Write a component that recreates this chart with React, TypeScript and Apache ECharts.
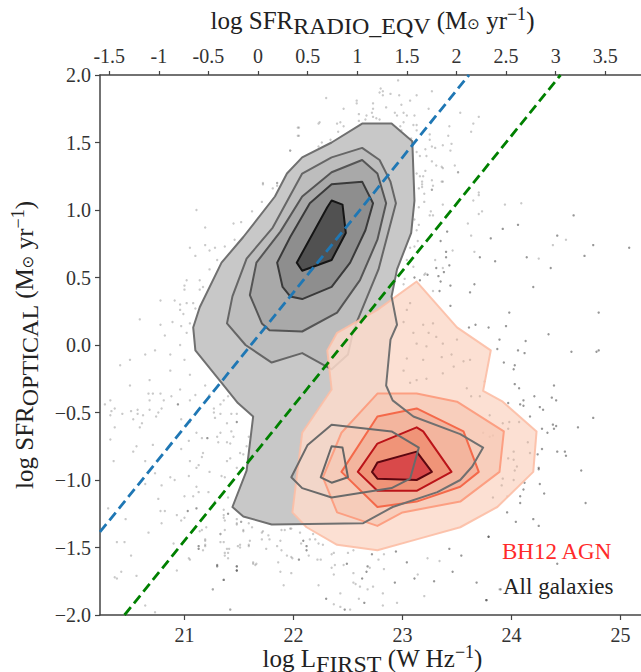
import React, { useEffect, useRef } from "react";
import * as echarts from "echarts";

const xBottomTicks = [21, 22, 23, 24, 25];
const xTopTicks = [-1.5, -1, -0.5, 0, 0.5, 1, 1.5, 2, 2.5, 3, 3.5];

const blueLine = [[20.225, -1.385], [23.61, 2]];
const greenLine = [[20.45, -2], [24.45, 2]];

const grayL1 = [[22.63,1.64],[22.90,1.64],[23.09,1.51],[23.11,1.07],[23.08,0.83],[22.95,0.56],[22.90,0.36],[22.95,0.15],[22.89,0.04],[22.85,-0.30],[22.91,-0.41],[23.10,-0.53],[23.53,-0.66],[23.74,-0.76],[23.64,-0.90],[23.53,-1.00],[23.32,-1.09],[22.91,-1.20],[22.64,-1.32],[21.80,-1.33],[21.54,-1.27],[21.44,-1.20],[21.57,-0.93],[21.63,-0.53],[21.49,-0.43],[21.33,-0.27],[21.10,-0.04],[21.08,0.13],[21.14,0.28],[21.34,0.61],[21.54,0.80],[21.83,1.10],[21.94,1.27],[22.08,1.39],[22.35,1.50]];
const grayL2 = [[22.63,1.46],[22.79,1.37],[22.89,1.21],[22.94,1.05],[22.78,0.56],[22.55,0.11],[22.50,-0.07],[22.35,-0.18],[22.08,-0.06],[21.80,-0.13],[21.56,0.00],[21.39,0.16],[21.44,0.36],[21.57,0.64],[21.81,0.87],[22.08,1.27],[22.35,1.39]];
const grayL3 = [[22.63,1.37],[22.77,1.27],[22.85,1.05],[22.77,0.78],[22.61,0.48],[22.40,0.24],[22.08,0.10],[21.78,0.11],[21.71,0.16],[21.60,0.37],[21.66,0.61],[21.88,0.84],[22.08,1.10],[22.35,1.28]];
const grayL4 = [[22.35,1.19],[22.63,1.21],[22.73,1.05],[22.66,0.85],[22.52,0.61],[22.35,0.43],[22.08,0.34],[21.97,0.36],[21.90,0.43],[21.85,0.61],[21.97,0.80],[22.15,1.05]];
const grayL5 = [[22.35,1.07],[22.45,1.04],[22.48,0.83],[22.35,0.63],[22.08,0.55],[22.03,0.61],[22.31,1.02]];
const grayIslandL2 = [[22.35,-0.59],[22.90,-0.64],[23.15,-0.76],[23.07,-0.99],[22.90,-1.06],[22.35,-1.13],[22.08,-1.06],[21.98,-0.98],[22.13,-0.74]];
const grayIslandL3 = [[22.35,-0.75],[22.45,-0.76],[22.50,-0.98],[22.35,-1.02],[22.25,-0.98]];

const agnL1 = [[23.13,0.47],[23.50,0.13],[23.81,-0.04],[23.74,-0.34],[23.92,-0.42],[24.23,-0.64],[24.20,-0.94],[23.87,-1.20],[23.53,-1.35],[23.13,-1.44],[22.77,-1.52],[22.40,-1.48],[22.12,-1.35],[21.99,-1.24],[22.08,-0.65],[22.35,-0.33],[22.31,-0.04],[22.40,0.09],[22.77,0.26]];
const agnL2 = [[22.77,-0.36],[23.13,-0.36],[23.50,-0.42],[23.93,-0.64],[23.89,-0.94],[23.53,-1.16],[23.00,-1.24],[22.77,-1.34],[22.40,-1.24],[22.27,-0.98],[22.44,-0.65]];
const agnL3 = [[22.44,-0.94],[22.77,-0.53],[23.13,-0.47],[23.56,-0.64],[23.70,-0.94],[23.53,-1.05],[23.13,-1.16],[22.77,-1.20]];
const agnL4 = [[22.59,-0.94],[22.77,-0.73],[23.13,-0.61],[23.19,-0.64],[23.45,-0.94],[23.13,-1.08],[22.77,-1.08]];
const agnL5 = [[22.72,-0.94],[22.77,-0.87],[23.13,-0.79],[23.27,-0.94],[23.13,-1.00],[22.77,-0.99]];

const faintDots = [
[20.27,-0.44],[20.33,-0.49],[20.32,-0.52],[20.36,-0.47],[20.43,-0.51],[20.51,-0.49],[20.57,-0.48],[20.57,-0.51],[20.62,-0.52],[20.68,-0.48],[20.76,-0.50],[20.74,-0.53],[20.53,-0.55],[20.61,-0.58],[20.59,-0.61],[20.36,-0.61],[20.32,-0.70],[20.56,-0.75],[20.53,-0.79],[20.71,-0.74],[20.35,-0.86],[20.64,-0.86],[20.73,-0.95],[20.81,-0.41],[20.79,-0.47],[20.88,-0.38],[20.67,-0.36],[20.71,-0.36],[20.78,-0.36],[21.05,-0.41],[20.97,-0.55],[21.05,-0.57],[21.11,-0.65],[21.16,-0.69],[21.04,-0.71],[20.97,-0.77],[21.30,-0.68],[21.33,-0.65],[21.43,-0.64],[21.45,-0.68],[21.42,-0.73],[21.39,-0.72],[21.17,-0.80],[21.16,-0.83],[21.05,-0.86],[21.13,-0.89],[21.11,-0.91],[21.23,-0.94],[21.34,-0.97],[21.37,-0.98],[21.48,-0.91],[21.42,-0.84],[21.39,-0.86],[21.51,-0.80],[21.54,-0.81],[21.04,-0.97],[20.91,-1.00],[20.87,-0.98],[20.79,-1.04],[20.64,-1.03],[20.76,-1.14],[21.00,-1.12],[21.11,-1.05],[21.13,-1.09],[21.08,-1.12],[21.22,-1.09],[21.33,-1.12],[21.28,-1.16],[21.40,-1.13],[21.36,-1.22],[21.36,-1.28],[20.78,-1.23],[20.82,-1.23],[20.93,-1.26],[21.00,-1.28],[20.97,-1.30],[20.79,-1.32],[20.67,-1.39],[20.38,-1.46],[20.45,-1.46],[20.51,-1.56],[20.42,-1.68],[20.38,-1.73],[20.36,-1.72],[20.56,-1.71],[20.64,-1.93],[20.73,-1.98],[20.46,-1.29],[20.30,-1.21],[20.90,-1.47],[21.04,-1.58],[21.05,-1.59],[21.19,-1.44],[21.19,-1.48],[20.93,-1.67],[21.26,-1.81],[21.42,-1.96],[21.37,-1.54],[21.40,-1.58],[21.51,-1.48],[21.59,-1.48],[21.63,-1.61],[21.66,-1.62],[21.33,-1.40],[21.37,-1.37],[21.48,-1.32],[21.52,-1.31],[21.59,-1.32],[21.62,-1.35],[21.54,-1.37],[21.14,-1.38],[21.20,-1.35],[21.27,-0.50],[21.27,-0.47],[21.33,-0.51],[21.36,-0.41],[21.40,-0.38],[21.33,-0.44],[21.43,-0.51],[21.48,-0.51],[21.39,-0.58],[21.28,-0.54],[21.59,-0.68],[21.31,-0.72],[21.57,-0.75],
[21.16,-1.37],[21.19,-1.45],[21.19,-1.49],[21.17,-1.52],[21.33,-1.40],[21.33,-1.46],[21.36,-1.46],[21.37,-1.30],[21.36,-1.26],[21.48,-1.29],[21.52,-1.31],[21.48,-1.33],[21.54,-1.38],[21.60,-1.45],[21.59,-1.49],[21.49,-1.49],[21.51,-1.50],[21.71,-1.39],[21.72,-1.38],[21.77,-1.41],[21.71,-1.44],[21.78,-1.44],[21.88,-1.45],[21.85,-1.49],[21.75,-1.51],[21.89,-1.52],[21.94,-1.56],[21.98,-1.57],[21.99,-1.58],[22.14,-1.56],[22.07,-1.47],[21.89,-1.37],[21.92,-1.37],[21.97,-1.36],[21.98,-1.36],[22.06,-1.39],[22.15,-1.44],[22.20,-1.44],[22.18,-1.40],[22.23,-1.47],[22.27,-1.48],[22.35,-1.55],[22.37,-1.54],[22.50,-1.54],[22.55,-1.52],[22.83,-1.55],[22.78,-1.59],[23.23,-1.58],[23.34,-1.60],[22.46,-1.63],[22.38,-1.63],[22.35,-1.65],[22.37,-1.70],[22.22,-1.59],[22.25,-1.59],[21.86,-1.61],[21.63,-1.62],[21.65,-1.63],[21.48,-1.64],[21.37,-1.56],[21.40,-1.54],[21.39,-1.51],[21.41,-1.51],[21.88,-1.68],[21.98,-1.69],[21.36,-1.74],[21.26,-1.81],[21.91,-1.78],[22.23,-1.78],[22.55,-1.69],[22.70,-1.65],[22.83,-1.66],[22.55,-1.76],[22.57,-1.77],[22.61,-1.79],[22.68,-1.81],[22.73,-1.79],[23.14,-1.70],[23.20,-1.86],[22.82,-1.84],[22.43,-1.84],[22.60,-1.88],[22.37,-1.92],[22.43,-1.94],[22.52,-1.96],[22.82,-1.93],[22.95,-1.91],[21.42,-1.96],[23.89,-1.81],
[22.96,1.96],[22.80,1.90],[22.79,1.87],[22.82,1.88],[22.82,1.85],[22.89,1.86],[22.97,1.85],[23.13,1.85],[23.27,1.88],[22.30,1.83],[22.58,1.81],[22.58,1.79],[22.46,1.75],[22.73,1.79],[22.73,1.75],[22.85,1.76],[22.99,1.78],[23.07,1.81],[23.24,1.75],[22.72,1.72],[22.67,1.70],[22.60,1.71],[22.60,1.66],[22.66,1.67],[22.73,1.69],[22.76,1.68],[22.79,1.67],[22.93,1.72],[22.95,1.70],[23.01,1.72],[23.04,1.70],[23.11,1.70],[23.53,1.72],[23.70,1.69],[23.65,1.64],[23.63,1.58],[22.24,1.65],[22.23,1.64],[22.40,1.64],[22.43,1.65],[22.46,1.62],[22.04,1.61],[22.04,1.55],[22.41,1.58],[22.34,1.52],[22.26,1.50],[22.23,1.47],[21.97,1.44],[23.01,1.65],[23.10,1.63],[23.13,1.63],[22.98,1.62],[22.99,1.59],[23.13,1.59],[23.08,1.53],[23.25,1.56],[23.43,1.62],[23.42,1.55],[23.37,1.48],[23.45,1.49],[23.44,1.44],[23.25,1.52],[23.21,1.45],[23.27,1.47],[23.30,1.46],[23.16,1.40],[23.22,1.40],[23.13,1.43],[23.27,1.36],[23.31,1.33],[23.36,1.32],[23.37,1.31],[23.48,1.33],[23.51,1.28],[23.13,1.27],[23.19,1.25],[23.18,1.21],[23.27,1.22],[23.36,1.21],[23.18,1.17],[23.27,1.15],[21.72,1.19],[21.85,1.20],[21.85,1.18],[21.81,1.16],
[23.16,1.25],[23.18,1.19],[23.21,1.29],[23.37,1.21],[23.51,1.28],[23.28,1.18],[23.27,1.15],[23.15,1.16],[23.20,1.12],[23.15,1.02],[23.20,1.06],[23.37,1.04],[23.26,0.99],[23.28,0.96],[23.25,0.96],[23.11,0.93],[23.15,0.89],[23.13,0.85],[23.14,0.77],[23.11,0.73],[23.07,0.72],[23.04,0.63],[23.65,1.07],[23.70,1.13],[23.70,1.11],[23.73,0.99],[23.70,0.97],[23.94,1.04],[24.09,1.05],[23.60,0.90],[23.63,0.81],[24.50,0.78],[24.38,0.74],[23.46,0.70],[23.66,0.69],[24.25,0.64],[23.30,0.63],[23.37,0.57],[23.10,0.58],[23.02,0.49],[23.21,0.53],[23.20,0.52],[23.01,0.45],[23.28,0.40],
[21.11,1.00],[21.19,0.87],[21.05,0.72],[21.19,0.74],[21.10,0.66],[21.28,0.72],[21.37,0.73],[21.45,0.90],[21.52,0.91],[21.62,0.99],[21.71,1.06],[21.72,1.20],[21.85,1.20],[21.97,1.44],[22.05,1.61],[22.05,1.55],[21.02,0.48],[21.00,0.44],[21.17,0.43],[21.14,0.41],[21.08,0.31],[21.02,0.31],[21.10,0.27],[20.96,0.30],[20.99,0.23],[21.05,0.16],[20.97,0.14],[21.02,0.09],[21.23,0.56],[21.30,0.63],[21.46,0.78],
[20.59,0.19],[20.73,-0.04],[20.41,-0.15],[20.82,0.07],[20.87,-0.19],[20.32,-0.41],[20.50,-0.30],[20.68,-0.26],[20.91,0.33],[20.78,0.33],[20.96,0.26],[20.64,-0.07],[20.87,-0.07],[20.96,0.00],[21.05,-0.22],[21.19,-0.30],[20.96,-0.33],[20.68,-0.41],[20.50,-0.11],[21.00,-0.11],[21.10,-0.37],[21.23,-0.37],[20.78,0.15],[20.89,0.17],[21.00,0.41],[21.14,0.48],[21.23,0.70],
];

const darkDots = [
[20.94,-0.44],[21.21,-0.69],[21.48,-0.57],[21.40,-1.25],[21.03,-1.23],[21.11,-1.21],[21.13,-1.49],[21.13,-1.51],[21.30,-1.63],[21.48,-1.64],[21.48,-1.67],[21.36,-1.74],
[22.05,-1.59],[22.09,-1.45],[22.12,-1.49],[22.12,-1.52],[22.72,-1.55],[22.94,-1.53],[23.04,-1.61],[23.43,-1.51],[23.54,-1.56],[23.79,-1.42],[22.49,-1.62],[21.30,-1.64],[21.48,-1.67],[22.68,-1.64],[22.67,-1.68],[22.63,-1.73],[22.93,-1.76],[23.11,-1.73],[23.29,-1.75],[23.46,-1.68],[23.68,-1.76],[23.77,-1.89],[22.30,-1.88],[22.65,-1.91],[22.47,-1.96],
[24.57,0.96],[23.92,0.86],[24.06,0.89],[23.41,0.84],[23.35,0.77],[23.81,0.79],[24.42,0.81],[24.75,0.74],[25.08,0.72],[23.40,0.69],[23.40,0.65],[23.71,0.65],[23.85,0.62],[24.14,0.65],[24.67,0.66],[23.31,0.57],[23.43,0.59],[23.38,0.54],[24.36,0.57],[23.11,0.50],[23.23,0.52],[23.33,0.51],[23.35,0.47],[23.16,0.48],[23.44,0.44],[23.66,0.45],[24.20,0.43],[23.34,0.40],[23.62,0.39],[23.44,0.29],[23.98,0.24],[24.80,0.24],[23.67,0.15],[23.61,0.13],[23.79,0.13],[23.95,0.14],[24.34,0.08],[23.89,0.04],[24.13,0.03],[23.87,-0.03],[24.06,-0.04],[24.12,-0.06],[24.55,-0.05],[24.78,-0.05],[24.80,-0.04],[23.93,-0.13],[24.03,-0.15],[24.02,-0.18],[23.75,-0.27],[24.03,-0.29],[24.39,-0.30],[24.07,-0.32],[24.21,-0.38],[24.37,-0.39],[24.41,-0.41],[24.11,-0.41],[23.97,-0.43],[24.08,-0.44],[24.11,-0.45],[24.26,-0.46],
[24.29,-0.48],[24.17,-0.53],[24.75,-0.54],[24.38,-0.59],[24.41,-0.60],[24.39,-0.62],[24.61,-0.61],[24.28,-0.62],[24.33,-0.65],[24.42,-0.79],[24.49,-0.79],[24.50,-0.82],[24.28,-0.77],[24.24,-0.81],[24.25,-0.91],[24.25,-0.92],[24.64,-0.93],[24.12,-1.02],[24.26,-1.03],[24.11,-1.07],[24.30,-1.10],[24.08,-1.12],[24.08,-1.17],[24.68,-1.17],[23.96,-1.24],[24.04,-1.31],[24.20,-1.29],[24.25,-1.34],[23.79,-1.42],[24.42,-1.62],[23.90,-1.81],[23.77,-1.89],[23.96,-1.12],
];

const agnDots = [
[23.07,0.31],[23.01,0.17],[23.10,0.09],[23.19,0.15],[23.28,0.16],[23.24,0.09],[23.31,0.06],[23.13,0.01],[23.22,-0.01],[23.37,0.01],[23.50,0.04],[23.04,-0.10],[23.19,-0.11],[23.36,-0.09],[23.45,-0.07],[23.56,-0.12],[23.62,-0.11],[23.13,-0.26],[23.22,-0.25],[23.47,-0.16],[23.37,-0.21],[23.59,-0.32],[23.63,-0.38],[23.71,-0.38],[23.04,0.26],[23.01,-0.19],[23.07,-0.28],
[23.80,-0.52],[23.92,-0.58],[23.98,-0.57],[24.07,-0.57],[23.97,-0.62],[24.15,-0.72],[24.02,-0.79],[24.17,-0.80],[23.97,-0.84],[24.02,-0.85],[24.05,-0.90],[24.03,-0.93],[23.92,-0.99],[23.91,-1.04],[24.02,-1.00],[23.83,-1.13],[23.74,-0.65],[23.80,-0.68],[23.83,-0.67],
];

const SERIF = '"Liberation Serif","DejaVu Serif",serif';

const nameRich = {
  m: { fontFamily: SERIF, fontSize: 25, color: "#222" },
  s: { fontFamily: SERIF, fontSize: 24, color: "#222", padding: [12, 0, 0, 0] },
  o: { fontFamily: '"DejaVu Sans",sans-serif', fontSize: 15, color: "#222", padding: [8, 0, 0, 0] },
  u: { fontFamily: SERIF, fontSize: 18, color: "#222", padding: [0, 0, 12, 0] },
};

function polygonSeries(name: string, pts: number[][], z: number, fill: string, stroke: string, lineWidth = 2) {
  return {
    name,
    type: "custom",
    coordinateSystem: "cartesian2d",
    xAxisIndex: 0,
    yAxisIndex: 0,
    z,
    silent: true,
    data: pts,
    encode: { x: 0, y: 1 },
    renderItem: (params: any, api: any) => {
      if (params.dataIndex !== 0) return null;
      return {
        type: "polygon",
        shape: { points: pts.map((p) => api.coord(p)) },
        style: { fill, stroke, lineWidth, lineJoin: "round" },
      };
    },
  };
}

function dotSeries(name: string, pts: number[][], z: number, color: string, size: number) {
  return {
    name,
    type: "scatter",
    xAxisIndex: 0,
    yAxisIndex: 0,
    z,
    silent: true,
    symbolSize: size,
    itemStyle: { color },
    data: pts,
  };
}

function lineSeries(name: string, pts: number[][], color: string) {
  return {
    name,
    type: "line",
    xAxisIndex: 0,
    yAxisIndex: 0,
    z: 30,
    silent: true,
    symbol: "none",
    lineStyle: { color, width: 2.8, type: [10, 5] },
    data: pts,
  };
}

const axisLine = { show: true, onZero: false, lineStyle: { color: "#444", width: 1.5 } };
const tickLabel = { fontFamily: SERIF, fontSize: 20, color: "#333" };

export default function App() {
  const ref = useRef<HTMLDivElement>(null);
  useEffect(() => {
    const chart = echarts.init(ref.current!, undefined, { renderer: "svg" });
    chart.setOption({
      animation: false,
      backgroundColor: "#fff",
      grid: { left: 100, top: 75, width: 545, height: 540, outerBoundsMode: "none", containLabel: false },
      xAxis: [
        {
          type: "value", position: "bottom", min: 20.225, max: 25.225,
          splitLine: { show: false }, axisLine,
          axisTick: { show: true, length: 5, inside: false, customValues: xBottomTicks, lineStyle: { color: "#444", width: 1.2 } },
          axisLabel: { ...tickLabel, margin: 10, customValues: xBottomTicks, formatter: (v: number) => String(v) },
          name: "{m|log L}{s|FIRST}{m| (W Hz}{u|−1}{m|)}",
          nameLocation: "middle", nameGap: 25, nameMoveOverlap: false, nameTextStyle: { rich: nameRich },
        },
        {
          type: "value", position: "top", min: -1.593, max: 3.9,
          splitLine: { show: false }, axisLine,
          axisTick: { show: true, length: 4, inside: false, customValues: xTopTicks, lineStyle: { color: "#444", width: 1.2 } },
          axisLabel: { ...tickLabel, margin: 9, customValues: xTopTicks, formatter: (v: number) => String(v) },
          name: "{m|log SFR}{s|RADIO_EQV}{m| (M}{o|⊙}{m| yr}{u|−1}{m|)}",
          nameLocation: "middle", nameGap: 37, nameTextStyle: { rich: nameRich },
        },
      ],
      yAxis: {
        type: "value", min: -2, max: 2, interval: 0.5, position: "left",
        splitLine: { show: false }, axisLine,
        axisTick: { show: true, length: 5, inside: false, lineStyle: { color: "#444", width: 1.2 } },
        axisLabel: { ...tickLabel, margin: 9, formatter: (v: number) => v.toFixed(1).replace("-", "−") },
        name: "{m|log SFR}{s|OPTICAL}{m| (M}{o|⊙}{m| yr}{u|−1}{m|)}",
        nameLocation: "middle", nameGap: 58, nameRotate: 90, nameTextStyle: { rich: nameRich },
      },
      graphic: [
        { type: "text", left: 502, top: 540, z: 40, style: { text: "BH12 AGN", fill: "#ff2a2a", font: `23px ${SERIF}` } },
        { type: "text", left: 503, top: 575, z: 40, style: { text: "All galaxies", fill: "#222", font: `23px ${SERIF}` } },
      ],
      series: [
        dotSeries("All galaxies faint", faintDots, 1, "rgba(120,120,120,0.5)", 2.4),
        dotSeries("All galaxies dark", darkDots, 1, "rgba(70,70,70,0.7)", 2.4),
        polygonSeries("gray 1", grayL1, 2, "#c8c8c8", "none"),
        polygonSeries("gray island 2", grayIslandL2, 3, "#bebebe", "none"),
        polygonSeries("gray island 3", grayIslandL3, 4, "#aaaaaa", "none"),
        polygonSeries("gray 2", grayL2, 3, "#bdbdbd", "#666666"),
        polygonSeries("gray 3", grayL3, 4, "#a9a9a9", "#555555"),
        polygonSeries("gray 4", grayL4, 5, "#8e8e8e", "#3a3a3a"),
        polygonSeries("gray 5", grayL5, 6, "#515151", "#151515"),
        polygonSeries("BH12 AGN 1", agnL1, 10, "rgba(252,218,203,0.85)", "rgba(252,190,165,0.9)"),
        dotSeries("BH12 AGN background", agnDots, 11, "rgba(120,100,90,0.35)", 2.4),
        polygonSeries("BH12 AGN 2", agnL2, 12, "rgba(247,200,180,0.75)", "#fc9f82"),
        polygonSeries("BH12 AGN 3", agnL3, 13, "rgba(243,178,155,0.9)", "#f4694a"),
        polygonSeries("BH12 AGN 4", agnL4, 14, "rgba(239,146,118,0.95)", "#bb1419"),
        polygonSeries("BH12 AGN 5", agnL5, 15, "#d9494a", "#5c0710"),
        polygonSeries("gray line 1", grayL1, 20, "none", "#707070"),
        polygonSeries("gray line island 2", grayIslandL2, 20, "none", "#6a6a6a"),
        polygonSeries("gray line island 3", grayIslandL3, 20, "none", "#666666"),
        lineSeries("log SFR blue", blueLine, "#1f77b4"),
        lineSeries("log SFR green", greenLine, "#008000"),
      ],
    });
    return () => chart.dispose();
  }, []);
  return (
    <div style={{ position: "absolute", left: 0, top: 0, width: 641, height: 672, overflow: "hidden", background: "#fff" }}>
      <div ref={ref} style={{ width: 641, height: 672 }} />
    </div>
  );
}
